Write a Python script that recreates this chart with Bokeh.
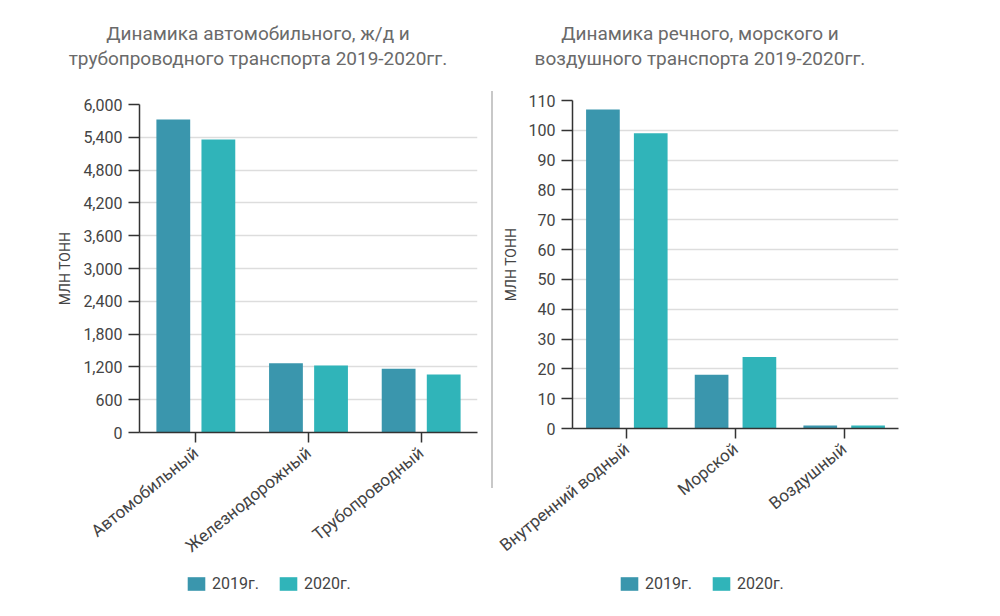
import math
from bokeh.plotting import figure
from bokeh.models import (FactorRange, FixedTicker, NumeralTickFormatter, Legend,
                          LegendItem, Div, ColumnDataSource, Range1d)
from bokeh.transform import dodge
from bokeh.layouts import row, column
from bokeh.embed import file_html
from bokeh.resources import INLINE

# ---------------- data ----------------
left_title = ["Динамика автомобильного, ж/д и", "трубопроводного транспорта 2019-2020гг."]
left_categories = ["Автомобильный", "Железнодорожный", "Трубопроводный"]
left_2019 = [5725, 1268, 1165]
left_2020 = [5360, 1225, 1061]
left_ticks = [0, 600, 1200, 1800, 2400, 3000, 3600, 4200, 4800, 5400, 6000]

right_title = ["Динамика речного, морского и", "воздушного транспорта 2019-2020гг."]
right_categories = ["Внутренний водный", "Морской", "Воздушный"]
right_2019 = [107, 18, 1]
right_2020 = [99, 24, 1]
right_ticks = [0, 10, 20, 30, 40, 50, 60, 70, 80, 90, 100, 110]

series_labels = ["2019г.", "2020г."]
y_axis_label = "МЛН ТОНН"

# ---------------- style ----------------
COL19 = "#3A96AD"
COL20 = "#30B4B9"
FONT = "Roboto"
TXT = "#444444"


def make_chart(categories, v19, v20, ticks, width, height, borders, off, barw, margin):
    src = ColumnDataSource(dict(cat=categories, v19=v19, v20=v20))
    p = figure(x_range=FactorRange(*categories, range_padding=0),
               y_range=Range1d(ticks[0], ticks[-1]),
               width=width, height=height, output_backend="svg",
               toolbar_location=None, tools="", margin=margin)
    p.min_border_left, p.min_border_right, p.min_border_top, p.min_border_bottom = borders
    p.outline_line_color = None
    p.background_fill_color = "white"
    p.border_fill_color = "white"

    p.vbar(x=dodge("cat", -off, range=p.x_range), top="v19", width=barw,
           source=src, color=COL19, line_color=None)
    p.vbar(x=dodge("cat", off, range=p.x_range), top="v20", width=barw,
           source=src, color=COL20, line_color=None)

    p.xgrid.grid_line_color = None
    p.ygrid.grid_line_color = "#dddddd"
    p.ygrid.grid_line_width = 1.5
    p.ygrid.ticker = FixedTicker(ticks=ticks)

    ya = p.yaxis[0]
    ya.ticker = FixedTicker(ticks=ticks)
    ya.formatter = NumeralTickFormatter(format="0,0")
    ya.axis_label = y_axis_label
    ya.axis_label_text_font = FONT
    ya.axis_label_text_font_size = "14px"
    ya.axis_label_text_font_style = "normal"
    ya.axis_label_text_color = TXT
    ya.axis_label_standoff = 7
    ya.major_label_text_font = FONT
    ya.major_label_text_font_size = "16px"
    ya.major_label_text_color = TXT
    ya.major_label_standoff = 6
    ya.major_tick_out = 11
    ya.major_tick_in = 0
    ya.minor_tick_out = 0
    ya.minor_tick_in = 0
    ya.axis_line_color = "#333333"
    ya.axis_line_width = 1.5
    ya.major_tick_line_color = "#333333"
    ya.major_tick_line_width = 1.5

    xa = p.xaxis[0]
    xa.major_label_orientation = 0.68
    xa.major_label_text_font = FONT
    xa.major_label_text_font_size = "17px"
    xa.major_label_text_color = TXT
    xa.major_label_standoff = 8
    xa.major_tick_out = 10
    xa.major_tick_in = 0
    xa.axis_line_color = "#333333"
    xa.axis_line_width = 1.5
    xa.major_tick_line_color = "#333333"
    xa.major_tick_line_width = 1.5
    return p


def legend_fig(width, height, loc):
    p = figure(width=width, height=height, x_range=Range1d(0, 1), y_range=Range1d(0, 1),
               output_backend="svg", toolbar_location=None, tools="",
               min_border=0, min_border_left=0, min_border_right=0,
               min_border_top=0, min_border_bottom=0)
    p.axis.visible = False
    p.grid.visible = False
    p.outline_line_color = None
    # proxy renderers for the legend keys (placed outside the visible range)
    r1 = p.vbar(x=[10], top=[10], width=0.1, color=COL19, line_color=None)
    r2 = p.vbar(x=[10], top=[10], width=0.1, color=COL20, line_color=None)
    legend = Legend(items=[LegendItem(label=series_labels[0], renderers=[r1]),
                           LegendItem(label=series_labels[1], renderers=[r2])],
                    orientation="horizontal", location=loc,
                    glyph_width=22, glyph_height=17, label_height=14,
                    label_standoff=5, spacing=18, padding=0, margin=0,
                    border_line_color=None, background_fill_alpha=0,
                    label_text_font=FONT, label_text_font_size="16px",
                    label_text_color=TXT)
    p.add_layout(legend)
    return p


def title_div(lines, width):
    html = ('<div style="width:%dpx;padding-top:13px;font-family:Roboto;font-size:19px;'
            'line-height:25px;color:#6a6a6a;text-align:center;">' % width
            + "<br>".join(lines) + "</div>")
    return Div(text=html, width=width, height=63, margin=0)


H = 494
p_left = make_chart(left_categories, left_2019, left_2020, left_ticks,
                    width=483, height=H, borders=(131, 14, 29, 136),
                    off=0.2, barw=0.3, margin=(4, 0, 0, 0))
p_right = make_chart(right_categories, right_2019, right_2020, right_ticks,
                     width=499, height=H, borders=(79, 94, 29, 136),
                     off=0.22, barw=0.31, margin=(0, 0, 0, 0))

sep = Div(text="", width=2, height=397, margin=(20, 0, 0, 0),
          styles={"background-color": "#c8c8c8"})

leg_left = legend_fig(485, 34, (177, 10))
leg_right = legend_fig(499, 34, (125, 10))

titles = row(title_div(left_title, 500), title_div(right_title, 384))
charts = row(p_left, sep, p_right)
legends = row(leg_left, leg_right)
layout = column(titles, charts, legends, margin=(8, 0, 0, 8))

open("out.html", "w").write(file_html(layout, INLINE))
